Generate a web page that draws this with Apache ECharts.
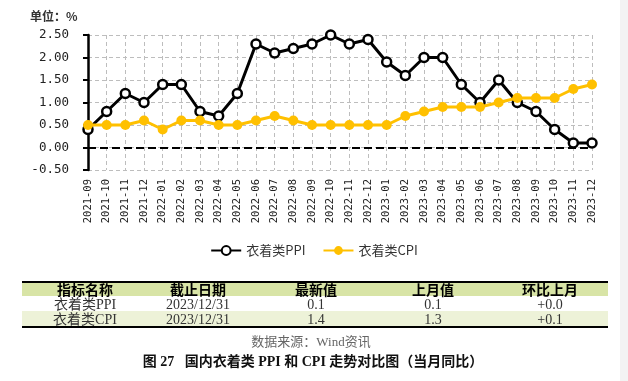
<!DOCTYPE html>
<html>
<head>
<meta charset="utf-8">
<script src="https://cdn.jsdelivr.net/npm/echarts@6/dist/echarts.min.js"></script>
<style>
  html, body { margin: 0; padding: 0; background: #fff; }
  #wrap { position: relative; width: 628px; height: 381px; overflow: hidden; background:#fff; }
  #chart { position: absolute; left: 0; top: 0; width: 628px; height: 381px; }
  .abs { position: absolute; white-space: pre; }
  .c { transform: translateX(-50%); }
</style>
</head>
<body>
<div id="wrap">
  <div id="chart"></div>
  <div id="tbl"></div>
</div>
<script>
// ---- data ----
const categories = ['2021-09','2021-10','2021-11','2021-12','2022-01','2022-02','2022-03','2022-04','2022-05','2022-06','2022-07','2022-08','2022-09','2022-10','2022-11','2022-12','2023-01','2023-02','2023-03','2023-04','2023-05','2023-06','2023-07','2023-08','2023-09','2023-10','2023-11','2023-12'];
const ppiValues = [0.4,0.8,1.2,1.0,1.4,1.4,0.8,0.7,1.2,2.3,2.1,2.2,2.3,2.5,2.3,2.4,1.9,1.6,2.0,2.0,1.4,1.0,1.5,1.0,0.8,0.4,0.1,0.1];
const cpiValues = [0.5,0.5,0.5,0.6,0.4,0.6,0.6,0.5,0.5,0.6,0.7,0.6,0.5,0.5,0.5,0.5,0.5,0.7,0.8,0.9,0.9,0.9,1.0,1.1,1.1,1.1,1.3,1.4];
const seriesNames = ['衣着类PPI','衣着类CPI'];
const unitLabel = '单位：%';
const tableHeaders = ['指标名称','截止日期','最新值','上月值','环比上月'];
const tableRow1 = ['衣着类PPI','2023/12/31','0.1','0.1','+0.0'];
const tableRow2 = ['衣着类CPI','2023/12/31','1.4','1.3','+0.1'];
const sourceText = '数据来源：Wind资讯';
const captionText = '图 27   国内衣着类 PPI 和 CPI 走势对比图（当月同比）';

// ---- chart ----
const chart = echarts.init(document.getElementById('chart'), null, {renderer: 'canvas'});
const gridDash = {color: '#bdbdbd', type: [4, 3], width: 1};
chart.setOption({
  animation: false,
  backgroundColor: 'transparent',
  title: {
    text: unitLabel, left: 25, top: 5,
    textStyle: {fontSize: 12, fontWeight: 'bold', color: '#333', fontFamily: 'Noto Sans CJK SC'}
  },
  legend: {
    data: seriesNames, left: 'center', top: 239,
    itemWidth: 30, itemHeight: 11, itemGap: 17,
    textStyle: {fontSize: 13, color: '#333', fontFamily: 'Noto Sans CJK SC'}
  },
  grid: {left: 88, right: 36, top: 35, bottom: 211, containLabel: false},
  xAxis: {
    type: 'category', data: categories, boundaryGap: false,
    axisLine: {show: false},
    axisTick: {show: false},
    axisLabel: {rotate: 90, margin: 9, fontSize: 10.5, color: '#222', fontFamily: 'DejaVu Sans Mono', interval: 0},
    splitLine: {show: true, lineStyle: gridDash}
  },
  yAxis: {
    type: 'value', min: -0.5, max: 2.5, interval: 0.5,
    axisLine: {show: true, lineStyle: {color: '#000', width: 2.5}},
    axisTick: {show: true, length: 5, lineStyle: {color: '#000', width: 2}},
    axisLabel: {margin: 19, fontSize: 12.5, color: '#222', fontFamily: 'DejaVu Sans Mono', formatter: v => v.toFixed(2)},
    splitLine: {show: true, lineStyle: gridDash}
  },
  series: [
    {
      name: seriesNames[0], type: 'line', data: ppiValues,
      symbol: 'circle', symbolSize: 9, showAllSymbol: true,
      lineStyle: {color: '#000', width: 3},
      itemStyle: {color: '#fff', borderColor: '#000', borderWidth: 2.5},
      markLine: {
        silent: true, symbol: 'none', label: {show: false},
        lineStyle: {color: '#000', type: [8, 4], width: 2},
        data: [{yAxis: 0}]
      },
      z: 2
    },
    {
      name: seriesNames[1], type: 'line', data: cpiValues,
      symbol: 'circle', symbolSize: 10, showAllSymbol: true,
      lineStyle: {color: '#FFC000', width: 3},
      itemStyle: {color: '#FFC000', borderColor: '#FFC000', borderWidth: 0},
      z: 3
    }
  ]
});

// ---- table & captions (HTML text) ----
const tbl = document.getElementById('tbl');
const colCenters = [85, 198, 316, 433, 550];
function addDiv(style, text, cls) {
  const d = document.createElement('div');
  d.className = 'abs' + (cls ? ' ' + cls : '');
  Object.assign(d.style, style);
  if (text !== undefined) d.textContent = text;
  tbl.appendChild(d);
  return d;
}
// backgrounds and borders
addDiv({left:'22px', top:'282px', width:'586px', height:'14px', background:'#d8e4a6'});
addDiv({left:'22px', top:'311px', width:'586px', height:'15px', background:'#edf2d8'});
addDiv({left:'22px', top:'281px', width:'586px', height:'2px', background:'#000'});
addDiv({left:'22px', top:'326px', width:'586px', height:'1.5px', background:'#000'});
// header
tableHeaders.forEach((t, i) => addDiv({left: colCenters[i]+'px', top:'280px', fontSize:'14px', fontWeight:'bold', lineHeight:'18px', color:'#000', fontFamily:'"Noto Sans CJK SC"'}, t, 'c'));
const bodyFont = '"Liberation Serif", "Noto Sans CJK SC"';
tableRow1.forEach((t, i) => addDiv({left: colCenters[i]+'px', top:'296px', fontSize:'14px', lineHeight:'17px', color:'#333', fontFamily: bodyFont}, t, 'c'));
tableRow2.forEach((t, i) => addDiv({left: colCenters[i]+'px', top:'311px', fontSize:'14px', lineHeight:'17px', color:'#333', fontFamily: bodyFont}, t, 'c'));
addDiv({left:'311px', top:'333px', fontSize:'13px', lineHeight:'18px', color:'#666', fontFamily: bodyFont}, sourceText, 'c');
addDiv({left:'313px', top:'353px', fontSize:'14px', lineHeight:'18px', fontWeight:'bold', color:'#111', fontFamily: '"Liberation Serif", "Noto Sans CJK SC"'}, captionText, 'c');
// right page strip
addDiv({left:'620px', top:'0px', width:'8px', height:'381px', background:'#f3f3f3'});
</script>
</body>
</html>
